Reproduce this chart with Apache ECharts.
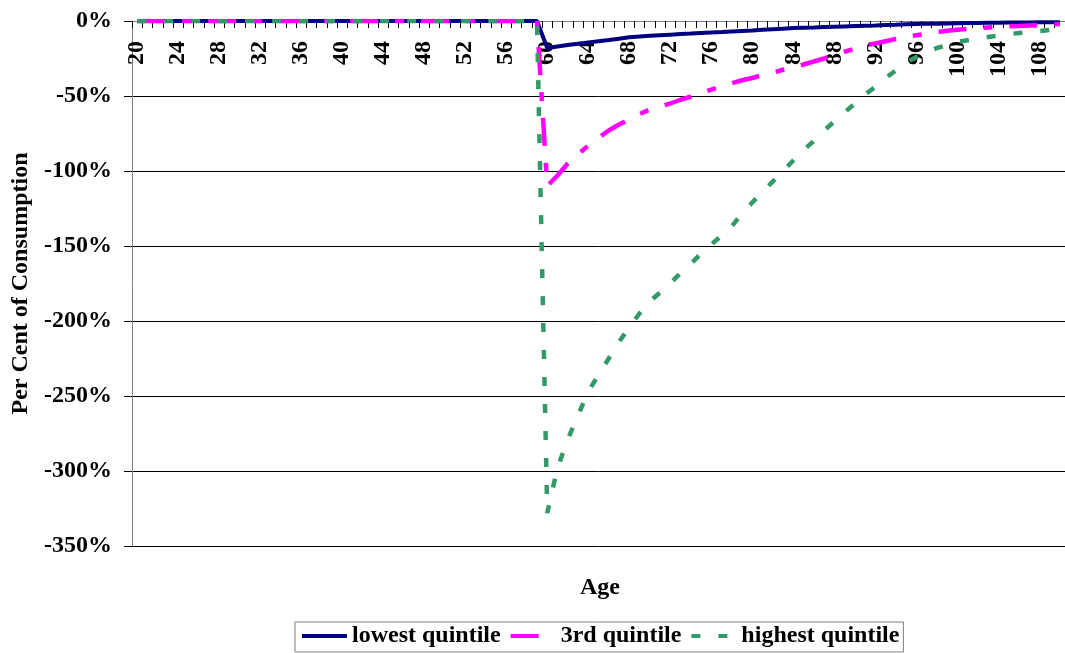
<!DOCTYPE html>
<html>
<head>
<meta charset="utf-8">
<script src="https://cdn.jsdelivr.net/npm/echarts@6/dist/echarts.min.js"></script>
<style>
  html, body { margin: 0; padding: 0; background: #fff; }
  #chart { width: 1065px; height: 653px; }
</style>
</head>
<body>
<div id="chart"></div>
<script>
// Ages on the category axis
const ages = [
  20, 21, 22, 23, 24, 25, 26, 27, 28, 29, 30, 31, 32, 33, 34, 35, 36, 37, 38, 39,
  40, 41, 42, 43, 44, 45, 46, 47, 48, 49, 50, 51, 52, 53, 54, 55, 56, 57, 58, 59,
  60, 61, 62, 63, 64, 65, 66, 67, 68, 69, 70, 71, 72, 73, 74, 75, 76, 77, 78, 79,
  80, 81, 82, 83, 84, 85, 86, 87, 88, 89, 90, 91, 92, 93, 94, 95, 96, 97, 98, 99,
  100, 101, 102, 103, 104, 105, 106, 107, 108, 109, 110
];

// Per cent of consumption, by age (20 .. 110)
const lowestQuintile = [
  0, 0, 0, 0, 0, 0, 0, 0, 0, 0, 0, 0, 0, 0, 0, 0, 0, 0, 0, 0,
  0, 0, 0, 0, 0, 0, 0, 0, 0, 0, 0, 0, 0, 0, 0, 0, 0, 0, 0, 0,
  -18, -17, -16, -15.1, -14.3, -13.5, -12.7, -11.8, -10.9, -10.4,
  -9.9, -9.5, -9.1, -8.7, -8.4, -8.0, -7.7, -7.4, -7.0, -6.6,
  -6.3, -5.9, -5.5, -5.1, -4.7, -4.5, -4.3, -4.0, -3.8, -3.6,
  -3.4, -3.2, -3.0, -2.7, -2.5, -2.2, -2.0, -1.9, -1.8, -1.6,
  -1.5, -1.4, -1.3, -1.2, -1.1, -1.05, -1.0, -0.95, -0.9, -0.85, -0.8
];

const thirdQuintile = [
  0, 0, 0, 0, 0, 0, 0, 0, 0, 0, 0, 0, 0, 0, 0, 0, 0, 0, 0, 0,
  0, 0, 0, 0, 0, 0, 0, 0, 0, 0, 0, 0, 0, 0, 0, 0, 0, 0, 0, 0,
  -110, -103, -95, -89, -83, -78, -73, -69, -65.5, -62,
  -59, -57, -55, -52.5, -50.5, -48, -45.7, -43.5, -41.5, -39.5,
  -38, -36, -34.5, -32.5, -31, -29, -27, -25, -23, -20.5,
  -18.5, -16.5, -15, -13.5, -12, -10.5, -9.5, -8.5, -7.5, -6.5,
  -5.8, -5.2, -4.7, -4.3, -4.0, -3.6, -3.3, -3.0, -2.7, -2.3, -2.0
];

const highestQuintile = [
  0, 0, 0, 0, 0, 0, 0, 0, 0, 0, 0, 0, 0, 0, 0, 0, 0, 0, 0, 0,
  0, 0, 0, 0, 0, 0, 0, 0, 0, 0, 0, 0, 0, 0, 0, 0, 0, 0, 0, 0,
  -328, -298, -279, -263, -247, -236, -225, -214, -204, -195,
  -187, -181, -175, -168, -162, -155, -149, -143, -137, -128,
  -121, -114, -107, -100, -93, -86, -80, -73, -67, -61,
  -55, -49, -44, -38, -33, -28, -24, -21, -18, -16,
  -14, -12.8, -11.7, -10.7, -9.7, -8.8, -8.0, -7.3, -6.7, -6.0, -5.5
];

const seriesNames = ['lowest quintile', '3rd quintile', 'highest quintile'];
const seriesColors = ['#000080', '#FF00FF', '#339966'];
const seriesDash = ['solid', [28, 17, 9, 17], [9, 18]];

const FONT = "'Liberation Serif', 'Times New Roman', serif";
const textBold = { fontFamily: FONT, fontWeight: 'bold', fontSize: 24, color: '#000' };

const chart = echarts.init(document.getElementById('chart'), null, { renderer: 'canvas' });

chart.setOption({
  animation: false,
  backgroundColor: '#fff',
  grid: { left: 132, top: 21, right: -7, bottom: 107, containLabel: false },
  legend: {
    data: seriesNames.map((n, i) => ({
      name: n,
      lineStyle: { color: seriesColors[i], width: 4, type: seriesDash[i], cap: 'butt' }
    })),
    left: 295,
    top: 622,
    orient: 'horizontal',
    itemWidth: 45,
    itemHeight: 14,
    itemGap: 8,
    padding: [2, 4, 4, 5],
    borderColor: '#808080',
    borderWidth: 1,
    // legend samples show only the line, no point marker
    itemStyle: { color: 'rgba(0,0,0,0)', borderWidth: 0, opacity: 0 },
    textStyle: Object.assign({}, textBold, { padding: [0, 0, 0, 0] })
  },
  graphic: [{
    type: 'text',
    x: 600,
    y: 588,
    style: {
      text: 'Age', align: 'center', verticalAlign: 'middle',
      font: "bold 24px 'Liberation Serif', 'Times New Roman', serif", fill: '#000'
    }
  }],
  xAxis: {
    type: 'category',
    data: ages,
    position: 'top',
    boundaryGap: true,
    axisLine: { onZero: false, lineStyle: { color: '#808080', width: 1 } },
    axisTick: { show: true, inside: true, length: 7, interval: 0, lineStyle: { color: '#000', width: 1 } },
    axisLabel: Object.assign({ inside: true, rotate: -90, interval: 3, margin: 20 }, textBold),
    splitLine: { show: false }
  },
  yAxis: {
    type: 'value',
    min: -350,
    max: 0,
    interval: 50,
    name: 'Per Cent of Consumption',
    nameLocation: 'middle',
    nameRotate: 90,
    nameGap: 92,
    nameTextStyle: textBold,
    axisLine: { show: true, lineStyle: { color: '#808080', width: 1 } },
    axisTick: { show: true, length: 8, lineStyle: { color: '#000', width: 1 } },
    axisLabel: Object.assign({ margin: 20, formatter: '{value}%' }, textBold),
    splitLine: { show: true, lineStyle: { color: '#000', width: 1 } }
  },
  series: [
    {
      name: seriesNames[0],
      type: 'line',
      data: lowestQuintile,
      symbol: 'none',
      lineStyle: { color: seriesColors[0], width: 4, type: seriesDash[0] },
      itemStyle: { color: seriesColors[0] },
      z: 2
    },
    {
      name: seriesNames[1],
      type: 'line',
      data: thirdQuintile,
      symbol: 'none',
      lineStyle: { color: seriesColors[1], width: 4.5, type: seriesDash[1], cap: 'butt' },
      itemStyle: { color: seriesColors[1] },
      z: 3
    },
    {
      name: seriesNames[2],
      type: 'line',
      data: highestQuintile,
      symbol: 'none',
      lineStyle: { color: seriesColors[2], width: 4.5, type: seriesDash[2], cap: 'butt' },
      itemStyle: { color: seriesColors[2] },
      z: 4
    }
  ]
});
</script>
</body>
</html>
